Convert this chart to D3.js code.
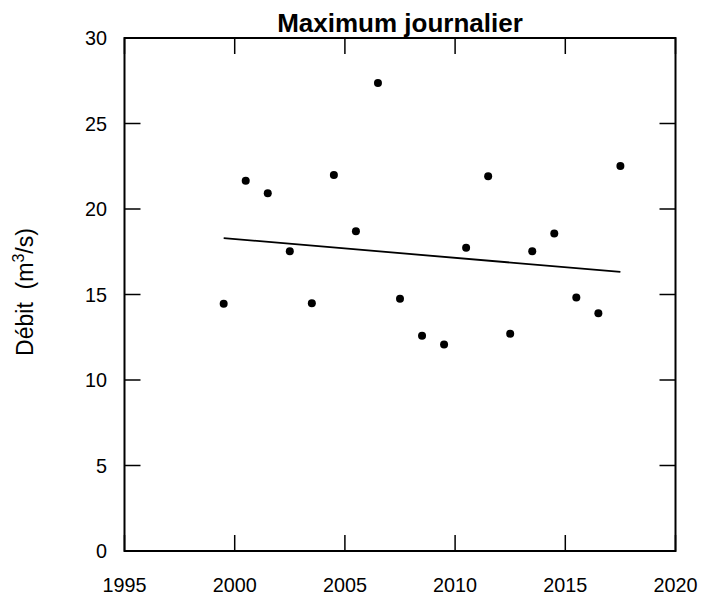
<!DOCTYPE html>
<html><head><meta charset="utf-8">
<script src="https://cdn.jsdelivr.net/npm/d3@7"></script>
<style>body{margin:0;background:#fff}svg{display:block}text{font-family:"Liberation Sans",Arial,sans-serif;white-space:pre}</style>
</head><body><svg id="c" width="702" height="598"></svg>
<script>
const years = [1999.5,2000.5,2001.5,2002.5,2003.5,2004.5,2005.5,2006.5,2007.5,2008.5,2009.5,2010.5,2011.5,2012.5,2013.5,2014.5,2015.5,2016.5,2017.5];
const values = [14.46,21.65,20.92,17.53,14.49,21.99,18.70,27.37,14.75,12.59,12.07,17.74,21.91,12.71,17.53,18.56,14.83,13.90,22.51];
const trendX = [1999.5, 2017.5];
const trendY = [18.30, 16.32];
const xTicks = [1995,2000,2005,2010,2015,2020];
const yTicks = [0,5,10,15,20,25,30];
const title = "Maximum journalier";

const svg = d3.select("#c");
const L=124.5, R=675.5, T=38, B=551;
const x = d3.scaleLinear().domain([1995,2020]).range([L,R]);
const y = d3.scaleLinear().domain([0,30]).range([B,T]);
const tl = 16;

const g = svg.append("g").attr("stroke","#000").attr("stroke-width",1.5);
xTicks.forEach(t=>{
  g.append("line").attr("x1",x(t)).attr("x2",x(t)).attr("y1",B).attr("y2",B-tl);
  g.append("line").attr("x1",x(t)).attr("x2",x(t)).attr("y1",T).attr("y2",T+tl);
});
yTicks.forEach(t=>{
  g.append("line").attr("y1",y(t)).attr("y2",y(t)).attr("x1",L).attr("x2",L+tl);
  g.append("line").attr("y1",y(t)).attr("y2",y(t)).attr("x1",R).attr("x2",R-tl);
});
svg.append("rect").attr("x",L).attr("y",T).attr("width",R-L).attr("height",B-T)
  .attr("fill","none").attr("stroke","#000").attr("stroke-width",2);

svg.selectAll(".xl").data(xTicks).enter().append("text")
  .attr("x",d=>x(d)).attr("y",592).attr("text-anchor","middle").attr("font-size",19.8).text(d=>d);
svg.selectAll(".yl").data(yTicks).enter().append("text")
  .attr("x",107).attr("y",d=>y(d)+7).attr("text-anchor","end").attr("font-size",19.8).text(d=>d);

svg.append("text").attr("x",(L+R)/2).attr("y",31.5).attr("text-anchor","middle")
  .attr("font-size",26).attr("font-weight","bold").text(title);

const yl = svg.append("text").attr("transform","translate(33,292) rotate(-90)")
  .attr("text-anchor","middle").attr("font-size",23);
yl.append("tspan").text("Débit  (m");
yl.append("tspan").attr("font-size",16).attr("dy",-9).text("3");
yl.append("tspan").attr("dy",9).text("/s)");

svg.append("line").attr("x1",x(trendX[0])).attr("y1",y(trendY[0]))
  .attr("x2",x(trendX[1])).attr("y2",y(trendY[1])).attr("stroke","#000").attr("stroke-width",1.8);

svg.selectAll(".pt").data(years).enter().append("circle")
  .attr("cx",d=>x(d)).attr("cy",(d,i)=>y(values[i])).attr("r",4).attr("fill","#000");
</script></body></html>
